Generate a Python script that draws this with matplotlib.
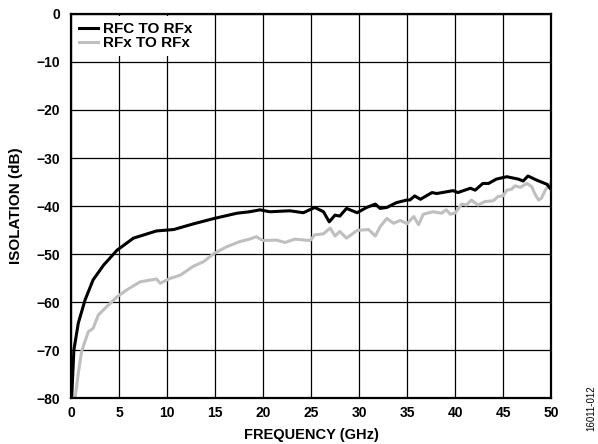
import matplotlib
matplotlib.use("Agg")
import matplotlib.pyplot as plt

plt.rcParams['font.family'] = ['Liberation Sans', 'DejaVu Sans']

# RFC TO RFx (black)
rfc_f = [0.07, 0.3, 0.76, 1.46, 2.3, 3.4, 4.8, 6.5, 8.9, 10.7, 12.7, 14.9, 17.3, 18.6,
         19.7, 20.7, 22.8, 24.2, 25.4, 26.3, 26.9, 27.5, 28.0, 28.7, 29.8, 30.8, 31.7,
         32.2, 32.9, 33.9, 34.3, 35.0, 35.3, 35.8, 36.4, 37.6, 38.1, 39.8, 40.3, 41.6,
         42.1, 42.9, 43.5, 44.3, 45.4, 46.6, 47.1, 47.6, 48.5, 49.6, 49.9]
rfc_db = [-80, -70, -64.4, -59.6, -55.4, -52.3, -49.2, -46.7, -45.2, -44.9, -43.75, -42.6,
          -41.5, -41.2, -40.8, -41.2, -41.0, -41.4, -40.3, -41.2, -43.3, -41.9, -42.1,
          -40.5, -41.4, -40.3, -39.6, -40.5, -40.3, -39.3, -39.1, -38.75, -38.75, -37.9,
          -38.6, -37.2, -37.4, -36.8, -37.2, -36.3, -36.7, -35.3, -35.3, -34.4, -33.9,
          -34.4, -34.8, -33.75, -34.6, -35.5, -36.3]

# RFx TO RFx (gray)
rfx_f = [0.42, 0.76, 1.1, 1.8, 2.3, 2.85, 3.7, 4.8, 5.8, 7.2, 8.9, 9.3, 10.3, 11.4, 12.7,
         13.8, 14.9, 16.2, 17.6, 18.6, 19.3, 20.0, 21.4, 22.3, 23.3, 24.9, 25.4, 26.3,
         27.0, 27.5, 28.0, 28.7, 29.8, 31.0, 31.7, 32.2, 32.9, 33.6, 34.3, 35.0, 35.7,
         36.2, 36.7, 37.7, 38.6, 39.1, 39.5, 40.0, 40.7, 41.2, 41.7, 42.4, 43.1, 44.0,
         44.5, 45.0, 45.4, 45.9, 46.25, 46.8, 47.5, 48.0, 48.3, 48.7, 49.0, 49.4, 49.9]
rfx_db = [-80, -74.9, -70.3, -66.2, -65.5, -62.7, -61.0, -58.9, -57.5, -55.8, -55.2, -56.1,
          -55.1, -54.4, -52.6, -51.6, -49.9, -48.5, -47.4, -46.9, -46.4, -47.2, -47.1,
          -47.6, -46.9, -47.2, -46.0, -45.8, -44.6, -46.25, -45.3, -46.7, -45.1, -44.9,
          -46.25, -44.3, -42.6, -43.6, -43.0, -43.7, -42.2, -43.9, -41.7, -41.2, -41.5,
          -40.8, -41.7, -41.5, -39.6, -39.8, -38.75, -39.8, -39.1, -38.9, -38.0, -37.9,
          -36.7, -36.5, -35.8, -36.1, -35.3, -36.0, -37.4, -38.75, -38.4, -36.7, -35.3]

x_ticks = [0, 5, 10, 15, 20, 25, 30, 35, 40, 45, 50]
y_ticks = [-80, -70, -60, -50, -40, -30, -20, -10, 0]
y_labels = ['\u221280', '\u221270', '\u221260', '\u221250', '\u221240', '\u221230',
            '\u221220', '\u221210', '0']

W, H = 598, 444
fig = plt.figure(figsize=(W/100, H/100), dpi=100)
ax = fig.add_axes([71/W, 1-398/H, 480/W, 384/H])

ax.plot(rfc_f, rfc_db, color='black', lw=2.2, label='RFC TO RFx', zorder=4)
ax.plot(rfx_f, rfx_db, color='#bfbfbf', lw=2.2, label='RFx TO RFx', zorder=3)

ax.set_xlim(0, 50)
ax.set_ylim(-80, 0)
ax.set_xticks(x_ticks)
ax.set_yticks(y_ticks)
ax.set_yticklabels(y_labels)
ax.grid(True, color='black', lw=0.9)
ax.tick_params(length=0, labelsize=10)
ax.tick_params(axis='x', pad=6)
ax.tick_params(axis='y', pad=8)
for lab in ax.get_xticklabels() + ax.get_yticklabels():
    lab.set_fontweight('bold')
for s in ax.spines.values():
    s.set_linewidth(1.6)
    s.set_zorder(6)

ax.set_xlabel('FREQUENCY (GHz)', fontsize=10.5, fontweight='bold')
ax.set_ylabel('ISOLATION (dB)', fontsize=11, fontweight='bold')
ax.xaxis.set_label_coords(0.5, (398 - 435) / 384)
ax.xaxis.label.set_va('center')
ax.yaxis.set_label_coords((16 - 71) / 480, 0.5)
ax.yaxis.label.set_va('center')

leg = ax.legend(loc='upper left', frameon=True, fancybox=False,
                prop={'weight': 'bold', 'size': 11},
                handlelength=1.25, handletextpad=0.3, borderaxespad=0.12,
                borderpad=0.4, labelspacing=0.0)
leg.get_frame().set_facecolor('white')
leg.get_frame().set_edgecolor('none')
leg.get_frame().set_alpha(1.0)
leg.set_zorder(5)

fig.text(591/W, 1-408/H, '16011-012', rotation=90, fontsize=7,
         ha='center', va='center')

fig.savefig('out.png', dpi=100)
